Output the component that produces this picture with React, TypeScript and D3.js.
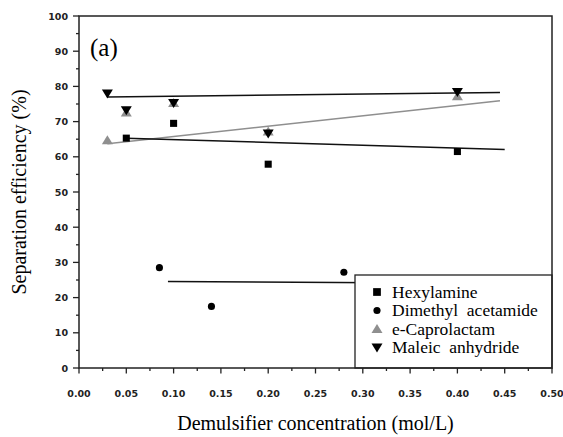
import { useEffect } from 'react';
import * as d3 from 'd3';

const W = 563;
const H = 437;
const margin = { top: 16, right: 11, bottom: 69, left: 79 };
const SERIF = "'Liberation Serif', 'Times New Roman', serif";
const SANS = "'DejaVu Sans', Verdana, sans-serif";

// measured points
const hexylamineX = [0.05, 0.1, 0.2, 0.4];
const hexylamineY = [65.3, 69.5, 57.9, 61.5];
const dmacX = [0.085, 0.14, 0.28];
const dmacY = [28.5, 17.5, 27.2];
const caproX = [0.03, 0.05, 0.1, 0.2, 0.4];
const caproY = [64.7, 72.6, 75.3, 67.2, 77.2];
const maleicX = [0.03, 0.05, 0.1, 0.2, 0.4];
const maleicY = [78.0, 73.2, 75.3, 66.6, 78.4];

// fitted lines [x0, y0, x1, y1]
const hexylamineFit = [0.05, 65.3, 0.45, 62.1];
const dmacFit = [0.094, 24.6, 0.45, 24.0];
const caproFit = [0.03, 63.7, 0.445, 75.9];
const maleicFit = [0.03, 77.0, 0.445, 78.3];

const xTicks = [0, 0.05, 0.1, 0.15, 0.2, 0.25, 0.3, 0.35, 0.4, 0.45, 0.5];
const yTicks = [0, 10, 20, 30, 40, 50, 60, 70, 80, 90, 100];

const legendNames = ['Hexylamine', 'Dimethyl  acetamide', 'e-Caprolactam', 'Maleic  anhydride'];
const GREY = '#8f8f8f';

export default function App() {
  useEffect(() => {
    document.body.style.margin = '0';
  }, []);

  const x = d3.scaleLinear().domain([0, 0.5]).range([margin.left, W - margin.right]);
  const y = d3.scaleLinear().domain([0, 100]).range([H - margin.bottom, margin.top]);
  const x0 = x(0), x1 = x(0.5), y0 = y(0), y1 = y(100);

  const sq = d3.symbol().type(d3.symbolSquare).size(50)()!;
  const circ = d3.symbol().type(d3.symbolCircle).size(40)()!;
  const tri = 'M0,-5L5.5,4L-5.5,4Z';
  const triDown = 'M0,5L5.5,-4L-5.5,-4Z';

  const xMinor = d3.range(0, 0.5001, 0.025);
  const yMinor = d3.range(0, 100.01, 5);

  const fitLine = (f: number[], color: string, key: string) => (
    <line key={key} x1={x(f[0])} y1={y(f[1])} x2={x(f[2])} y2={y(f[3])} stroke={color} strokeWidth={1.5} />
  );

  const legendX = 355, legendY = 275;
  const legendSyms = [
    <path d={d3.symbol().type(d3.symbolSquare).size(60)()!} fill="#000" />,
    <path d={circ} fill="#000" />,
    <path d={tri} fill={GREY} />,
    <path d={triDown} fill="#000" />,
  ];

  return (
    <svg width={W} height={H} style={{ display: 'block', background: '#fff' }}>
      {/* fit lines */}
      {fitLine(caproFit, GREY, 'cf')}
      {fitLine(hexylamineFit, '#111', 'hf')}
      {fitLine(maleicFit, '#111', 'mf')}
      {fitLine(dmacFit, '#111', 'df')}

      {/* points */}
      {caproX.map((v, i) => (
        <path key={'c' + i} d={tri} fill={GREY} transform={`translate(${x(v)},${y(caproY[i])})`} />
      ))}
      {maleicX.map((v, i) => (
        <path key={'m' + i} d={triDown} fill="#000" transform={`translate(${x(v)},${y(maleicY[i])})`} />
      ))}
      {hexylamineX.map((v, i) => (
        <path key={'h' + i} d={sq} fill="#000" transform={`translate(${x(v)},${y(hexylamineY[i])})`} />
      ))}
      {dmacX.map((v, i) => (
        <path key={'d' + i} d={circ} fill="#000" transform={`translate(${x(v)},${y(dmacY[i])})`} />
      ))}

      {/* legend */}
      <rect x={legendX} y={legendY} width={x1 - legendX} height={y0 - legendY} fill="#fff" stroke="#222" strokeWidth={1.3} />
      {legendNames.map((n, i) => (
        <g key={n} transform={`translate(${legendX + 22},${legendY + 17 + i * 18.5})`}>
          {legendSyms[i]}
          <text x={15} y={5.5} style={{ fontFamily: SERIF, whiteSpace: 'pre' }} fontSize={17.5} fill="#000">
            {n}
          </text>
        </g>
      ))}

      {/* frame */}
      <rect x={x0} y={y1} width={x1 - x0} height={y0 - y1} fill="none" stroke="#222" strokeWidth={1.5} />

      {/* x ticks */}
      {xMinor.map((v, i) => (
        <line key={'xt' + i} x1={x(v)} x2={x(v)} y1={y0} y2={y0 + (i % 2 === 0 ? 5.5 : 3)} stroke="#222" strokeWidth={1.3} />
      ))}
      {xTicks.map((v) => (
        <text key={'xl' + v} x={x(v)} y={y0 + 28.5} textAnchor="middle" style={{ fontFamily: SANS }} fontWeight="bold" fontSize={9.5} fill="#222">
          {v.toFixed(2)}
        </text>
      ))}

      {/* y ticks */}
      {yMinor.map((v, i) => (
        <line key={'yt' + i} x1={x0} x2={x0 - (i % 2 === 0 ? 6 : 3)} y1={y(v)} y2={y(v)} stroke="#222" strokeWidth={1.3} />
      ))}
      {yTicks.map((v) => (
        <text key={'yl' + v} x={x0 - 11} y={y(v) + 3.5} textAnchor="end" style={{ fontFamily: SANS }} fontWeight="bold" fontSize={9.5} fill="#222">
          {v}
        </text>
      ))}

      {/* labels */}
      <text x={90} y={56} style={{ fontFamily: SERIF }} fontSize={25} fill="#000">(a)</text>
      <text x={(x0 + x1) / 2} y={430} textAnchor="middle" style={{ fontFamily: SERIF }} fontSize={20} fill="#000">
        Demulsifier concentration (mol/L)
      </text>
      <text transform={`translate(26,${(y0 + y1) / 2}) rotate(-90)`} textAnchor="middle" style={{ fontFamily: SERIF }} fontSize={20} fill="#000">
        Separation efficiency (%)
      </text>
    </svg>
  );
}
